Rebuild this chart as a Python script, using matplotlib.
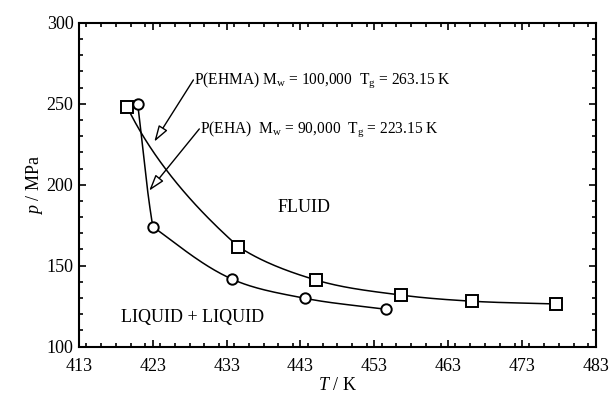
import numpy as np
import matplotlib
matplotlib.use("Agg")
import matplotlib.pyplot as plt
from matplotlib.ticker import MultipleLocator

plt.rcParams['font.family'] = ['Liberation Serif', 'DejaVu Serif']
plt.rcParams['mathtext.fontset'] = 'custom'
plt.rcParams['mathtext.rm'] = 'Liberation Serif'
plt.rcParams['mathtext.it'] = 'Liberation Serif:italic'
plt.rcParams['font.size'] = 13

# cloud-point pressures, P(EHMA) (squares) and P(EHA) (circles)
ehma_T = [419.5, 434.6, 445.1, 456.6, 466.2, 477.6]
ehma_p = [248.3, 161.7, 141.1, 131.8, 128.0, 126.3]
eha_T = [420.95, 423.0, 433.7, 443.6, 454.6]
eha_p = [249.9, 174.1, 141.7, 129.8, 123.0]

x_ticks = [413, 423, 433, 443, 453, 463, 473, 483]
y_ticks = [100, 150, 200, 250, 300]

ehma_label = r'P(EHMA) M$_\mathregular{w}$ = 100,000  T$_\mathregular{g}$ = 263.15 K'
eha_label = r'P(EHA)  M$_\mathregular{w}$ = 90,000  T$_\mathregular{g}$ = 223.15 K'

xr = (413, 483)
yr = (100, 300)
ASPECT = 0.626  # axes height / width


def unit(v):
    return v / np.linalg.norm(v, axis=-1, keepdims=True)


def smooth(xs, ys, start_turn=0.0, sharp=None, n=40):
    # piecewise cubic Bezier through the points, tangent length tied to
    # each segment so nothing overshoots; works in axis-fraction units.
    # sharp[i] > 0 lets the curve turn more abruptly at point i
    x = (np.asarray(xs, float) - xr[0]) / (xr[1] - xr[0])
    y = (np.asarray(ys, float) - yr[0]) / (yr[1] - yr[0]) * ASPECT
    P = np.column_stack((x, y))
    d = np.diff(P, axis=0)
    u = unit(d)
    if sharp is None:
        sharp = [0.0] * len(P)
    t_in = np.empty_like(P)
    t_out = np.empty_like(P)
    for i in range(1, len(P) - 1):
        bis = unit(u[i - 1] + u[i])
        t_in[i] = unit(bis * (1 - sharp[i]) + u[i - 1] * sharp[i])
        t_out[i] = unit(bis * (1 - sharp[i]) + u[i] * sharp[i])
    c, s = np.cos(start_turn), np.sin(start_turn)
    t_out[0] = [c * u[0, 0] - s * u[0, 1], s * u[0, 0] + c * u[0, 1]]
    t_in[-1] = u[-1]
    t = np.linspace(0, 1, n)[:, None]
    pts = []
    for i in range(len(P) - 1):
        L = np.linalg.norm(d[i]) / 3
        b0, b3 = P[i], P[i + 1]
        b1, b2 = b0 + t_out[i] * L, b3 - t_in[i + 1] * L
        pts.append((1 - t) ** 3 * b0 + 3 * (1 - t) ** 2 * t * b1
                   + 3 * (1 - t) * t ** 2 * b2 + t ** 3 * b3)
    c = np.vstack(pts)
    return (c[:, 0] * (xr[1] - xr[0]) + xr[0],
            c[:, 1] / ASPECT * (yr[1] - yr[0]) + yr[0])


fig = plt.figure(figsize=(6.11, 3.96), dpi=100)
ax = fig.add_axes([0.1293, 0.125, 0.8457, 0.817])

sx, sy = smooth(ehma_T, ehma_p, start_turn=-0.22,
                sharp=[0, 0.3, 0, 0, 0, 0])
ax.plot(sx, sy, color='black', lw=1.1, zorder=2)
ax.plot(ehma_T, ehma_p, linestyle='none', marker='s', ms=8,
        mfc='white', mec='black', mew=1.4, zorder=3)

sx, sy = smooth(eha_T, eha_p, sharp=[0, 0.9, 0, 0, 0])
ax.plot(sx, sy, color='black', lw=1.1, zorder=2)
ax.plot(eha_T, eha_p, linestyle='none', marker='o', ms=7.5,
        mfc='white', mec='black', mew=1.4, zorder=3)

ax.set_xlim(*xr)
ax.set_ylim(*yr)
ax.set_xticks(x_ticks)
ax.set_yticks(y_ticks)
ax.xaxis.set_minor_locator(MultipleLocator(2))
ax.yaxis.set_minor_locator(MultipleLocator(10))
ax.tick_params(which='both', direction='in', top=True, right=True, width=1.2)
ax.tick_params(which='major', length=5)
ax.tick_params(which='minor', length=3)
ax.tick_params(axis='x', pad=8)
ax.tick_params(axis='y', pad=4)
for s in ax.spines.values():
    s.set_linewidth(1.5)

ax.set_xlabel(r'$\mathit{T}$ / K', labelpad=2)
ax.set_ylabel(r'$\mathit{p}$ / MPa', labelpad=1)

ax.text(428.6, 262.3, ehma_label, ha='left', va='baseline', fontsize=11.2)
ax.text(429.4, 232.0, eha_label, ha='left', va='baseline', fontsize=11.2)
arrow = dict(arrowstyle='-|>,head_length=0.7,head_width=0.22', fc='white',
             ec='black', lw=1.0, mutation_scale=14, shrinkA=0, shrinkB=0)
ax.annotate('', xy=(423.2, 226.6), xytext=(428.5, 264.8), arrowprops=arrow)
ax.annotate('', xy=(422.5, 196.3), xytext=(429.3, 234.5), arrowprops=arrow)

ax.text(443.5, 183.2, 'FLUID', ha='center', va='baseline')
ax.text(418.7, 115.1, 'LIQUID + LIQUID', ha='left', va='baseline')

fig.savefig('out.png', dpi=100)
